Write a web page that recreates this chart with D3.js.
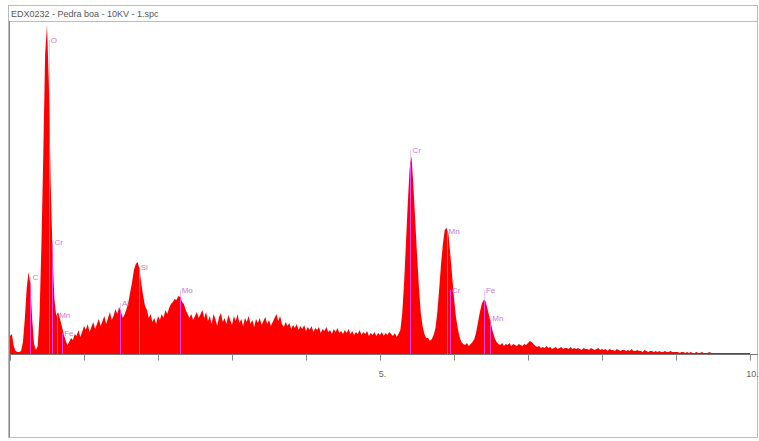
<!DOCTYPE html>
<html><head><meta charset="utf-8">
<script src="https://cdn.jsdelivr.net/npm/d3@7"></script>
<style>body{margin:0;background:#fff;}svg{display:block;}</style>
</head><body>
<svg id="c" width="759" height="441"></svg>
<script>
const title = "EDX0232 - Pedra boa - 10KV - 1.spc";
const channelStart = 0;      // keV
const channelWidth = 0.025;  // keV per channel
const counts = [
 18,20,8,3,2,2,3,12,35,65, 82,70,35,10,4,8,40,110,200,300, 329,270,170,100,55,38,42,35,28,20, 14,9,12,16,14,20,18,24,17,22,
 28,24,30,22,27,32,25,30,35,28, 33,38,30,36,42,34,38,45,40,47, 42,36,40,45,52,62,72,84,90,92, 85,70,58,48,44,36,40,32,36,30,
 38,34,40,36,44,40,46,50,52,55, 54,58,57,52,50,44,40,36,40,34, 38,42,36,40,44,36,42,33,38,30, 40,35,28,37,41,32,36,30,39,34,
 29,38,33,40,31,35,28,36,32,38, 30,34,27,35,31,36,29,33,37,30, 34,28,32,36,40,33,38,30,27,32, 28,31,25,29,26,30,24,28,25,29,
 23,27,24,28,22,26,24,27,21,25, 23,27,22,24,20,25,22,26,21,23, 20,24,21,25,20,23,19,22,20,24, 19,22,20,23,18,21,19,22,18,21,
 19,22,18,21,19,22,20,18,21,17, 20,24,40,70,110,150,185,198,170,135, 100,68,42,28,20,16,16,13,15,19, 26,42,65,90,110,124,126,120,100,78,
 56,38,26,17,12,10,9,11,8,10, 12,15,22,32,42,50,54,53,46,38, 30,22,16,12,10,9,11,8,10,9, 11,8,10,9,8,10,9,8,10,9,
 11,13,12,10,8,7,8,6,7,6, 8,6,7,5,6,7,5,6,7,5, 6,6,5,7,5,6,5,6,5,4, 6,5,5,4,6,5,4,5,6,4,
 5,4,5,3,5,4,4,3,5,4, 3,4,4,3,4,3,5,3,3,4, 3,3,2,4,3,2,3,3,2,3, 2,3,2,2,3,2,2,3,2,2,
 2,2,1,2,2,1,2,1,2,1, 1,2,1,1,2,1,1,1,2,1, 1,1,1,1,1,1,1,1,1,1, 1,1,1,1,1,1,1,1,1,1,1
];
const elemNames    = ["C","O","Cr","Mn","Fe","Al","Si","Mo","Cr","Mn","Cr","Fe","Mn"];
const elemEnergies = [0.277,0.525,0.573,0.637,0.705,1.487,1.740,2.293,5.411,5.899,5.947,6.404,6.490];
const elemLabelCounts = [77,314,112,39,21,51,87,64,204,123,64,64,36];
const xTicks = [0,1,2,3,4,5,6,7,8,9,10];
const xTickLabels = {5:"5.",10:"10."};
const yMax = 334;

const svg = d3.select("#c");
const x = d3.scaleLinear().domain([0,10]).range([10,750]);
const y = d3.scaleLinear().domain([0,yMax]).range([354,20]);

// frame
svg.append("rect").attr("x",8.5).attr("y",5.5).attr("width",749).attr("height",432)
  .attr("fill","#fff").attr("stroke","#bbb");
svg.append("line").attr("x1",8.5).attr("x2",757.5).attr("y1",21.5).attr("y2",21.5).attr("stroke","#bbb");
svg.append("line").attr("x1",9.5).attr("x2",9.5).attr("y1",21).attr("y2",437).attr("stroke","#888");
svg.append("text").attr("x",11).attr("y",17).text(title)
  .attr("font-family","Liberation Sans, Arial, sans-serif").attr("font-size",9).attr("fill","#555");

const pts = counts.map((c,i)=>[channelStart+i*channelWidth, c]);
const area = d3.area().x(d=>x(d[0])).y0(y(0)).y1(d=>y(d[1])).curve(d3.curveLinear);

svg.append("clipPath").attr("id","spec").append("path").attr("d",area(pts));

// faint marker lines above spectrum
const marks = elemNames.map((n,i)=>({n, e:elemEnergies[i], c:elemLabelCounts[i]}));
svg.append("g").selectAll("line").data(marks).join("line")
  .attr("x1",d=>Math.round(x(d.e))+0.5).attr("x2",d=>Math.round(x(d.e))+0.5)
  .attr("y1",y(0)).attr("y2",d=>y(d.c))
  .attr("stroke","#f3c6f3").attr("stroke-width",1);

svg.append("path").attr("d",area(pts)).attr("fill","#ff0000");

// strong marker lines within spectrum
svg.append("g").attr("clip-path","url(#spec)").selectAll("line").data(marks).join("line")
  .attr("x1",d=>Math.round(x(d.e))+0.5).attr("x2",d=>Math.round(x(d.e))+0.5)
  .attr("y1",y(0)).attr("y2",d=>y(d.c))
  .attr("stroke","#ff40ff").attr("stroke-width",1);

svg.append("g").selectAll("text").data(marks).join("text")
  .attr("x",d=>x(d.e)+2).attr("y",d=>y(d.c)+3)
  .text(d=>d.n)
  .attr("font-family","Liberation Sans, Arial, sans-serif").attr("font-size",8)
  .attr("fill","#c87ad8");

// x axis
const ax = svg.append("g").attr("transform","translate(0,354.5)")
  .call(d3.axisBottom(x).tickValues(xTicks).tickSize(6).tickSizeOuter(0)
    .tickFormat(d=>xTickLabels[d]||""));
ax.select(".domain").attr("stroke","#777").attr("d","M10,0H758");
ax.selectAll(".tick line").attr("stroke","#888");
ax.selectAll(".tick text").attr("font-family","Liberation Sans, Arial, sans-serif")
  .attr("font-size",9).attr("fill","#666").attr("dy","1.5em").attr("dx","2");
</script>
</body></html>
